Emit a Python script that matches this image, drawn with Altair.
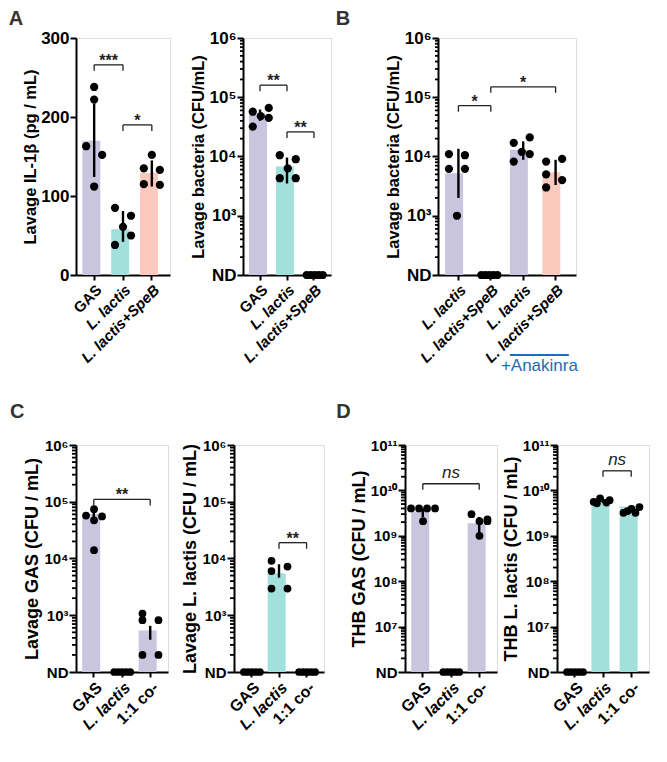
import math
import altair as alt
import pandas as pd

FONT = "Liberation Sans"
PURPLE = "#c9c5df"
TEAL = "#a2e0dc"
SALMON = "#fbc9bd"
BLUE = "#1f6db5"
PI, PO = 0.18, 0.22

# ---------------- data ----------------
# None in a dot list = not detected (ND)
A1_CATS = ["GAS", "L. lactis", "L. lactis+SpeB"]
A1_MEAN = [170, 58, 129]
A1_LO = [124, 42, 112]
A1_HI = [217, 81, 145]
A1_DOTS = [[238, 222, 163, 152, 112], [85, 75, 61, 50, 38], [152, 135, 133, 115, 114]]
A1_SLOTS = [[0, 0, -1, 1, 0], [-1, 1, 0, 1, -1], [0, -1, 1, -1, 1]]
A1_SIG = [("GAS", "L. lactis", 266, "***"), ("L. lactis", "L. lactis+SpeB", 190, "*")]

A2_CATS = ["GAS", "L. lactis", "L. lactis+SpeB"]
A2_MEAN = [51000, 6800, None]
A2_LO = [40000, 3500, None]
A2_HI = [62000, 9600, None]
A2_DOTS = [[66000, 57000, 48000, 45000, 32000], [10500, 9000, 6300, 4300, 4300], [None] * 5]
A2_SLOTS = [[1, -1, 0, 1, -1], [-1, 1, 0, -1, 1], [-1, -0.5, 0, 0.5, 1]]
A2_SIG = [("GAS", "L. lactis", 160000, "**"), ("L. lactis", "L. lactis+SpeB", 26000, "**")]

B_CATS = ["L. lactis", "L. lactis+SpeB", "L. lactis ", "L. lactis+SpeB "]
B_MEAN = [5200, None, 13000, 5400]
B_LO = [2000, None, 8800, 3300]
B_HI = [13500, None, 18000, 8800]
B_DOTS = [[11000, 10500, 6200, 6200, 1000], [None] * 5,
          [17000, 21000, 12000, 8200, 11000], [8200, 9100, 5000, 4000, 3000]]
B_SLOTS = [[-1, 1, -1, 1, 0], [-1, -0.5, 0, 0.5, 1], [-1, 1, 0, -1, 1], [-1, 1, -1, 1, -1]]
B_SIG = [("L. lactis", "L. lactis+SpeB", 72000, "*"), ("L. lactis+SpeB", "L. lactis+SpeB ", 150000, "*")]
B_GROUP = ("L. lactis ", "L. lactis+SpeB ", "+Anakinra")

C1_CATS = ["GAS", "L. lactis", "1:1 co-"]
C1_MEAN = [61000, None, 540]
C1_LO = [52000, None, 370]
C1_HI = [72000, None, 650]
C1_DOTS = [[74000, 57000, 55000, 47000, 14000], [None] * 5, [1070, 820, 820, 200, 200]]
C1_SLOTS = [[0, -1, 1, 0, 0], [-1, -0.5, 0, 0.5, 1], [-1, -1, 1, -1, 1]]
C1_SIG = [("GAS", "1:1 co-", 110000, "**")]

C2_CATS = ["GAS", "L. lactis", "1:1 co-"]
C2_MEAN = [None, 5500, None]
C2_LO = [None, 4600, None]
C2_HI = [None, 7900, None]
C2_DOTS = [[None] * 5, [9100, 7200, 6000, 2950, 2950], [None] * 5]
C2_SLOTS = [[-1, -0.5, 0, 0.5, 1], [-1, 1, -1, -1, 1], [-1, -0.5, 0, 0.5, 1]]
C2_SIG = [("L. lactis", "1:1 co-", 19000, "**")]

D1_CATS = ["GAS", "L. lactis", "1:1 co-"]
D1_MEAN = [3.4e9, None, 1.9e9]
D1_LO = [2.6e9, None, 1.2e9]
D1_HI = [4.0e9, None, 2.6e9]
D1_DOTS = [[4e9, 4e9, 4e9, 4e9, 2.1e9], [None] * 5, [3.0e9, 2.1e9, 2.1e9, 1.0e9, 2.3e9]]
D1_SLOTS = [[-1.5, -0.5, 0.5, 1.5, 0], [-1, -0.5, 0, 0.5, 1], [-1, 0, 1, 0, 1]]
D1_SIG = [("GAS", "1:1 co-", 1.4e10, "ns")]

D2_CATS = ["GAS", "L. lactis", "1:1 co-"]
D2_MEAN = [None, 6.0e9, 4.4e9]
D2_LO = [None, 5.3e9, 3.4e9]
D2_HI = [None, 6.5e9, 4.6e9]
D2_DOTS = [[None] * 5, [5.6e9, 6.7e9, 6.1e9, 5.4e9, 5.2e9], [3.2e9, 3.9e9, 4.3e9, 3.2e9, 3.5e9]]
D2_SLOTS = [[-1, -0.5, 0, 0.5, 1], [-1.2, -0.4, 0.8, 0.4, -0.8], [-1, 0, 1, 0.5, -0.5]]
D2_SIG = [("L. lactis", "1:1 co-", 2.7e10, "ns")]

SUP = str.maketrans("0123456789", "⁰¹²³⁴⁵⁶⁷⁸⁹")


def log_axis_parts(nd, top):
    lo_e, hi_e = round(math.log10(nd)), round(math.log10(top))
    e = "round(log(datum.value)/LN10)"
    expr = "''"
    for k in range(hi_e, lo_e, -1):
        expr = f"{e}=={k} ? '10{str(k).translate(SUP)}' : ({expr})"
    expr = f"{e}<={lo_e} ? 'ND' : ({expr})"
    majors = [10.0 ** k for k in range(lo_e, hi_e + 1)]
    minors = [m * 10.0 ** k for k in range(lo_e, hi_e) for m in range(2, 10)]
    return majors, minors, expr


def panel(cats, colors, mean, lo, hi, dots, slots, sigs, *, width, height, ytitle,
          letter, log=True, nd=None, top=None, title_offset=4, minor_len=3,
          major_len=6, dot_size=68, group=None, ytitle_size=14, label_size=15,
          xlabel_size=15, letter_dx=-14):
    n = len(cats)
    step = width / (n - PI + 2 * PO)
    bw = step * (1 - PI)
    xscale = alt.Scale(domain=cats, paddingInner=PI, paddingOuter=PO)
    xaxis = alt.Axis(title=None, labelAngle=-45, labelFontSize=xlabel_size,
                     labelFontWeight="bold", labelFont=FONT, labelColor="black",
                     labelFontStyle=alt.condition("indexof(datum.value,'lactis')>=0",
                                                  alt.value("italic"), alt.value("normal")),
                     tickSize=5, tickWidth=2, tickColor="black", domainWidth=2,
                     domainColor="black", labelPadding=2, labelAlign="right",
                     labelBaseline="top", grid=False)

    def X(f):
        return alt.X(f"{f}:N", scale=xscale, axis=xaxis, title=None)

    if log:
        majors, minors, expr = log_axis_parts(nd, top)
        yscale = alt.Scale(type="log", domain=[nd, top], nice=False)
        base = nd
        yaxis = alt.Axis(values=majors, labelExpr=expr)
    else:
        minors = []
        yscale = alt.Scale(domain=[0, top], nice=False, zero=True)
        base = 0
        yaxis = alt.Axis(values=[0, 100, 200, 300])
    yaxis = alt.Axis(**yaxis.to_dict(), title=ytitle, titleFont=FONT, titleFontSize=ytitle_size,
                     titleFontWeight="bold", titleColor="black", labelFont=FONT,
                     labelFontSize=label_size, labelFontWeight="bold", labelColor="black",
                     tickSize=major_len, tickWidth=2, tickColor="black", domainWidth=2,
                     domainColor="black", grid=False, labelPadding=1, titlePadding=2)

    def Y(f):
        return alt.Y(f"{f}:Q", scale=yscale, axis=yaxis, title=ytitle)

    bars_df = pd.DataFrame([{"cat": c, "mean": m, "lo": l, "hi": h}
                            for c, m, l, h in zip(cats, mean, lo, hi) if m is not None])
    dots_df = pd.DataFrame([{"cat": c, "v": (v if v is not None else nd), "slot": s}
                            for c, vs, ss in zip(cats, dots, slots) for v, s in zip(vs, ss)])

    bars = alt.Chart(bars_df).mark_bar().encode(
        x=X("cat"), y=Y("mean"), y2=alt.datum(base),
        color=alt.Color("cat:N", scale=alt.Scale(domain=cats, range=colors), legend=None))
    pts = alt.Chart(dots_df).mark_circle(size=dot_size, color="black", opacity=1).encode(
        x=X("cat"), y=Y("v"),
        xOffset=alt.XOffset("slot:Q", scale=alt.Scale(domain=[-2, 2],
                                                      range=[bw / 2 - 16, bw / 2 + 16])))
    err = alt.Chart(bars_df).mark_rule(color="black", strokeWidth=2.4).encode(
        x=X("cat"), y=Y("lo"), y2="hi:Q")
    layers = [bars, pts, err]

    for c1, c2, yv, lab in sigs:
        sdf = pd.DataFrame([{"c1": c1, "c2": c2, "y": yv, "label": lab}])
        base_c = alt.Chart(sdf)
        layers.append(base_c.mark_rule(color="#222", strokeWidth=1.3).encode(
            x=X("c1"), x2="c2:N", y=Y("y")))
        layers.append(base_c.mark_rule(color="#222", strokeWidth=1.3, y2Offset=6).encode(
            x=X("c1"), y=Y("y"), y2="y:Q"))
        layers.append(base_c.mark_rule(color="#222", strokeWidth=1.3, y2Offset=6).encode(
            x=X("c2"), y=Y("y"), y2="y:Q"))
        dx = step * (cats.index(c2) - cats.index(c1)) / 2
        if lab == "ns":
            txt = base_c.mark_text(dx=dx, dy=-11, fontSize=17, fontStyle="italic",
                                   font=FONT, color="#222")
        else:
            txt = base_c.mark_text(dx=dx, dy=-4, fontSize=16, fontWeight="bold",
                                   font=FONT, color="#222")
        layers.append(txt.encode(x=X("c1"), y=Y("y"), text="label:N"))

    if minors:
        mdf = pd.DataFrame({"m": minors})
        layers.append(alt.Chart(mdf).mark_rule(color="black", strokeWidth=1.8).encode(
            y=Y("m"), x=alt.value(0), x2=alt.value(-minor_len)))

    if group:
        gdf = pd.DataFrame([{"c1": group[0], "c2": group[1], "label": group[2]}])
        layers.append(alt.Chart(gdf).mark_rule(color=BLUE, strokeWidth=2).encode(
            x=alt.X("c1:N", scale=xscale, axis=xaxis, title=None, bandPosition=0),
            x2=alt.X2("c2:N", bandPosition=1), y=alt.value(height + 80)))
        layers.append(alt.Chart(gdf).mark_text(dx=step / 2, fontSize=17, font=FONT,
                                               color=BLUE).encode(
            x=X("c1"), y=alt.value(height + 91), text="label:N"))

    tp = dict(text=letter, anchor="start", frame="bounds", fontSize=20, fontWeight="bold",
              font=FONT, color="#333", offset=title_offset)
    if letter.strip():
        tp["dx"] = letter_dx
    return alt.layer(*layers).properties(width=width, height=height,
                                         title=alt.TitleParams(**tp))


ROW1 = dict(height=237, title_offset=0, ytitle_size=16.5, label_size=17, xlabel_size=15)
ROW2 = dict(height=227, title_offset=16, minor_len=4, major_len=7, dot_size=60,
            ytitle_size=18, label_size=15, xlabel_size=16)

A1 = panel(A1_CATS, [PURPLE, TEAL, SALMON], A1_MEAN, A1_LO, A1_HI, A1_DOTS, A1_SLOTS, A1_SIG,
           width=94, ytitle="Lavage IL-1β (pg / mL)", letter="A", log=False, top=300, **ROW1)
A2 = panel(A2_CATS, [PURPLE, TEAL, SALMON], A2_MEAN, A2_LO, A2_HI, A2_DOTS, A2_SLOTS, A2_SIG,
           width=88, ytitle="Lavage bacteria (CFU/mL)", letter=" ", nd=100, top=1e6, **ROW1)
B = panel(B_CATS, [PURPLE, SALMON, PURPLE, SALMON], B_MEAN, B_LO, B_HI, B_DOTS, B_SLOTS, B_SIG,
          width=138, ytitle="Lavage bacteria (CFU/mL)", letter="B", nd=100, top=1e6,
          group=B_GROUP, letter_dx=-50, **ROW1)

C1 = panel(C1_CATS, [PURPLE, TEAL, PURPLE], C1_MEAN, C1_LO, C1_HI, C1_DOTS, C1_SLOTS, C1_SIG,
           width=92, ytitle="Lavage GAS (CFU / mL)", letter="C", nd=100, top=1e6, **ROW2)
C2 = panel(C2_CATS, [PURPLE, TEAL, TEAL], C2_MEAN, C2_LO, C2_HI, C2_DOTS, C2_SLOTS, C2_SIG,
           width=90, ytitle="Lavage L. lactis (CFU / mL)", letter=" ", nd=100, top=1e6, **ROW2)
D1 = panel(D1_CATS, [PURPLE, TEAL, PURPLE], D1_MEAN, D1_LO, D1_HI, D1_DOTS, D1_SLOTS, D1_SIG,
           width=92, ytitle="THB GAS (CFU / mL)", letter="D", nd=1e6, top=1e11, **ROW2)
D2 = panel(D2_CATS, [PURPLE, TEAL, TEAL], D2_MEAN, D2_LO, D2_HI, D2_DOTS, D2_SLOTS, D2_SIG,
           width=92, ytitle="THB L. lactis (CFU / mL)", letter=" ", nd=1e6, top=1e11, **ROW2)

IND = dict(color="independent")
row1 = alt.hconcat(alt.hconcat(A1, A2, spacing=19).resolve_scale(**IND), B,
                   spacing=3).resolve_scale(**IND)
row2 = alt.hconcat(alt.hconcat(C1, C2, spacing=12).resolve_scale(**IND),
                   alt.hconcat(D1, D2, spacing=3).resolve_scale(**IND),
                   spacing=10).resolve_scale(**IND)
chart = alt.vconcat(row1, row2, spacing=26).resolve_scale(**IND).configure_view(
    stroke=None).configure(font=FONT, padding={"left": 0, "top": 0, "right": 2, "bottom": 2})

chart.save("out.html", embed_options={"renderer": "svg", "actions": False})
